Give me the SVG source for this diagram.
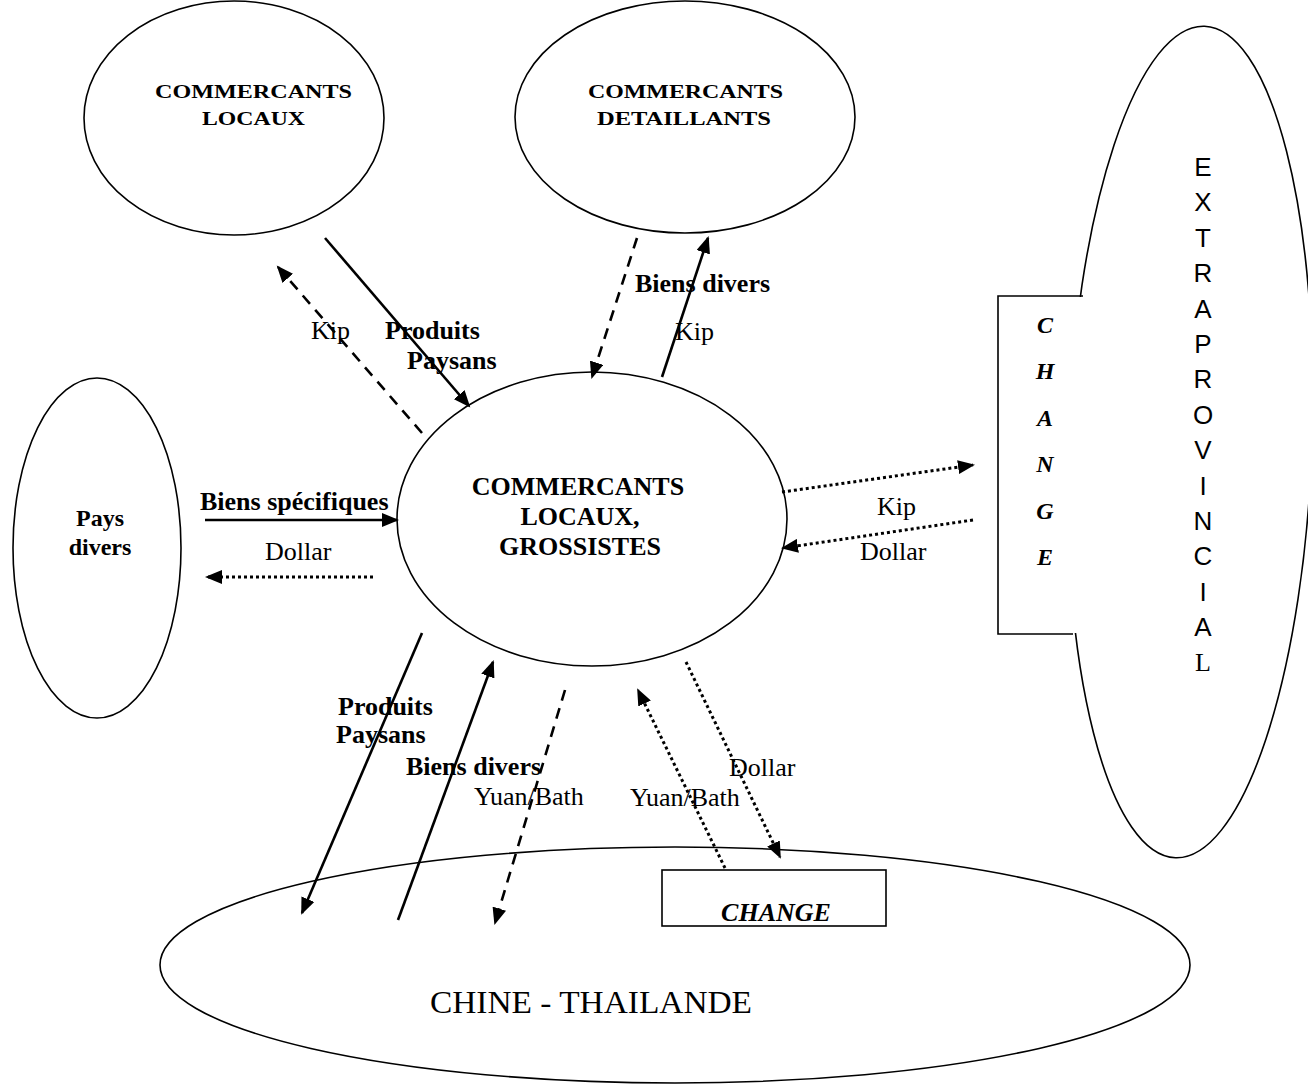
<svg xmlns="http://www.w3.org/2000/svg" width="1308" height="1090" viewBox="0 0 1308 1090">
<style>
.node{fill:#fff;stroke:#000;stroke-width:1.6}
.t{font-family:"Liberation Serif","Times New Roman",serif;fill:#000}
.b{font-weight:bold}
.bi{font-weight:bold;font-style:italic}
.lbl{font-size:26px}
.sans{font-family:"Liberation Sans",Arial,sans-serif;font-size:26px}
.solid{stroke:#000;stroke-width:2.6;fill:none;marker-end:url(#ah)}
.dash{stroke:#000;stroke-width:2.6;fill:none;stroke-dasharray:11 8;marker-end:url(#ah)}
.dot{stroke:#000;stroke-width:3;fill:none;stroke-dasharray:3 3;marker-end:url(#ah)}
</style>
<defs>
<marker id="ah" markerUnits="userSpaceOnUse" markerWidth="18" markerHeight="14" refX="15" refY="7" orient="auto">
<path d="M0,0 L17,7 L0,14 Z" fill="#000"/>
</marker>
</defs>
<rect width="1308" height="1090" fill="#fff"/>

<g id="node-extraprovincial">
<ellipse class="node" cx="1190" cy="442" rx="122" ry="416" transform="rotate(2 1190 442)"/>
<rect x="999" y="297" width="100" height="336" fill="#fff"/>
<path d="M1083,296 L998,296 L998,634 L1073,634" fill="none" stroke="#000" stroke-width="1.6"/>
<g class="t bi" font-size="24" text-anchor="middle">
<text x="1045" y="333">C</text>
<text x="1045" y="379">H</text>
<text x="1045" y="426">A</text>
<text x="1045" y="472">N</text>
<text x="1045" y="519">G</text>
<text x="1045" y="565">E</text>
</g>
<g class="sans" text-anchor="middle">
<text x="1203" y="176">E</text>
<text x="1203" y="211">X</text>
<text x="1203" y="247">T</text>
<text x="1203" y="282">R</text>
<text x="1203" y="318">A</text>
<text x="1203" y="353">P</text>
<text x="1203" y="388">R</text>
<text x="1203" y="424">O</text>
<text x="1203" y="459">V</text>
<text x="1203" y="495">I</text>
<text x="1203" y="530">N</text>
<text x="1203" y="565">C</text>
<text x="1203" y="601">I</text>
<text x="1203" y="636">A</text>
<text x="1203" y="671" font-family="Liberation Serif,serif">L</text>
</g>
</g>

<g id="node-chine-thailande">
<ellipse class="node" cx="675" cy="965" rx="515" ry="118"/>
<text class="t" x="430" y="1013" font-size="31" textLength="322" lengthAdjust="spacingAndGlyphs">CHINE - THAILANDE</text>
</g>

<g id="node-change-bottom">
<rect x="662" y="870" width="224" height="56" fill="#fff" stroke="#000" stroke-width="1.6"/>
<text class="t bi" x="776" y="921" font-size="26" text-anchor="middle">CHANGE</text>
</g>

<g id="node-commercants-locaux">
<ellipse class="node" cx="234" cy="118" rx="150" ry="117"/>
<text class="t b" x="155" y="98" font-size="19" textLength="197" lengthAdjust="spacingAndGlyphs">COMMERCANTS</text>
<text class="t b" x="202" y="125" font-size="19" textLength="103" lengthAdjust="spacingAndGlyphs">LOCAUX</text>
</g>

<g id="node-commercants-detaillants">
<ellipse class="node" cx="685" cy="117" rx="170" ry="116"/>
<text class="t b" x="588" y="98" font-size="19" textLength="195" lengthAdjust="spacingAndGlyphs">COMMERCANTS</text>
<text class="t b" x="597" y="125" font-size="19" textLength="174" lengthAdjust="spacingAndGlyphs">DETAILLANTS</text>
</g>

<g id="node-pays-divers">
<ellipse class="node" cx="97" cy="548" rx="84" ry="170"/>
<text class="t b" x="100" y="526" font-size="24" text-anchor="middle">Pays</text>
<text class="t b" x="100" y="555" font-size="24" text-anchor="middle">divers</text>
</g>

<g id="node-grossistes">
<ellipse class="node" cx="592" cy="519" rx="195" ry="147"/>
<g class="t b" font-size="26" text-anchor="middle">
<text x="578" y="495">COMMERCANTS</text>
<text x="580" y="525">LOCAUX,</text>
<text x="580" y="555">GROSSISTES</text>
</g>
</g>

<g id="connectors">
<line class="dash" x1="422" y1="433" x2="278" y2="267"/>
<line class="solid" x1="325" y1="238" x2="469" y2="406"/>
<line class="dash" x1="637" y1="238" x2="592" y2="377"/>
<line class="solid" x1="662" y1="377" x2="708" y2="238"/>
<line class="solid" x1="205" y1="520" x2="397" y2="520"/>
<line class="dot" x1="373" y1="577" x2="207" y2="577"/>
<line class="dot" x1="782" y1="492" x2="973" y2="465"/>
<line class="dot" x1="973" y1="520" x2="783" y2="548"/>
<line class="solid" x1="422" y1="633" x2="302" y2="913"/>
<line class="solid" x1="398" y1="920" x2="493" y2="662"/>
<line class="dash" x1="565" y1="690" x2="495" y2="923"/>
<line class="dot" x1="725" y1="868" x2="638" y2="690"/>
<line class="dot" x1="686" y1="662" x2="780" y2="857"/>
</g>

<g id="labels" class="t lbl">
<text x="311" y="339">Kip</text>
<text class="b" x="385" y="339">Produits</text>
<text class="b" x="407" y="369">Paysans</text>
<text class="b" x="635" y="292">Biens divers</text>
<text x="675" y="340">Kip</text>
<text class="b" x="200" y="510">Biens spécifiques</text>
<text x="265" y="560">Dollar</text>
<text x="877" y="515">Kip</text>
<text x="860" y="560">Dollar</text>
<text class="b" x="338" y="715">Produits</text>
<text class="b" x="336" y="743">Paysans</text>
<text class="b" x="406" y="775">Biens divers</text>
<text x="474" y="805">Yuan/Bath</text>
<text x="630" y="806">Yuan/Bath</text>
<text x="729" y="776">Dollar</text>
</g>
</svg>
